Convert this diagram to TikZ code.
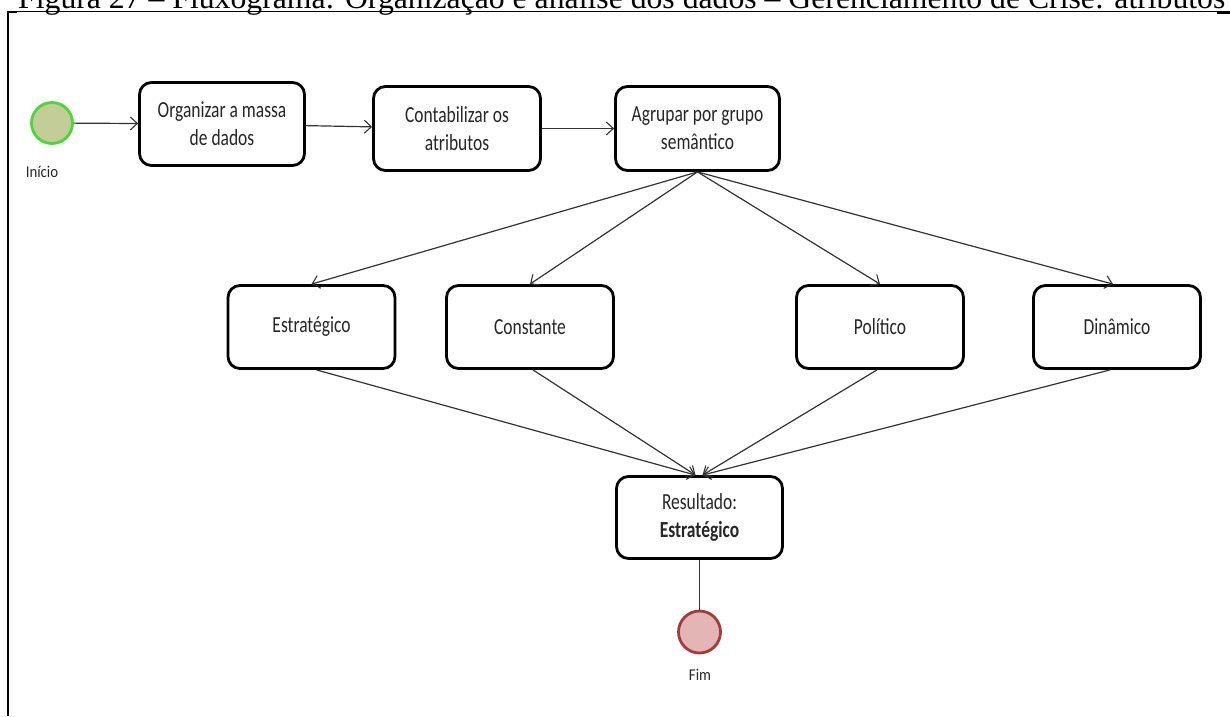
\documentclass[tikz,border=0pt]{standalone}
\usepackage{fontspec}
\usepackage{graphicx}
\setmainfont{Carlito}[FakeStretch=0.76]
\newfontfamily\labelfont{Carlito}[FakeStretch=0.9]
\newfontfamily\captionfont{Liberation Serif}
\usetikzlibrary{arrows.meta,calc}
\definecolor{startfill}{HTML}{C2CD98}
\definecolor{startline}{HTML}{4CD63C}
\definecolor{endfill}{HTML}{E3B5B4}
\definecolor{endline}{HTML}{9E3F3E}
\definecolor{ink}{HTML}{262626}
\definecolor{wire}{HTML}{333333}

\begin{document}
\begin{tikzpicture}[x=1pt,y=-1pt,
  stepbox/.style={draw=black, line width=2.8pt, rounded corners=12pt,
    align=center, inner sep=0pt, text=ink,
    font=\fontsize{23}{28}\selectfont},
  wide/.style={minimum width=167pt, minimum height=84pt},
  flow/.style={draw=wire, line width=1.2pt,
    -{Straight Barb[length=7pt,width=13pt,line width=1.1pt]}},
  plain/.style={draw=wire, line width=1.2pt},
  terminal/.style={circle, line width=2.8pt, minimum size=41pt, inner sep=0pt},
  tag/.style={text=ink, inner sep=0pt, font=\labelfont\fontsize{16.5}{19}\selectfont}]

\useasboundingbox (0,0) rectangle (1230,716);
\clip (0,0) rectangle (1230,716);
\fill[white] (0,0) rectangle (1230,716);

% caption line and frame of the figure
\node[anchor=base west, inner sep=0pt] (caption) at (18,8.5)
  {\resizebox{1207pt}{!}{\captionfont Figura 27 – Fluxograma: Organização e análise dos dados – Gerenciamento de Crise: atributos}};
\draw[line width=1.2pt] (8,11.5) -- (1230,11.5);
\draw[line width=2.6pt] (8,10.5) -- (8,716);
\draw[line width=2.2pt] (6.7,12) -- (17,12);
\draw[line width=2.2pt] (1217,12.5) -- (1230,12.5);

% start and end events
\node[terminal, fill=startfill, draw=startline] (start) at (52,123) {};
\node[tag] (startlbl) at (42,172) {Início};
\node[terminal, fill=endfill, draw=endline, minimum size=42pt] (finish) at (699.5,632) {};
\node[tag] (finishlbl) at (700,675) {Fim};

% first row of activities
\node[stepbox, minimum width=165pt, minimum height=83pt] (organize) at (222,124)
  {Organizar a massa\\de dados};
\node[stepbox, wide] (count) at (457,128.5) {Contabilizar os\\atributos};
\node[stepbox, minimum width=164pt, minimum height=84pt] (group) at (697.5,128.5)
  {Agrupar por grupo\\semântico};

% semantic groups
\node[stepbox, wide, minimum height=83pt] (strat) at (311.5,327) {Estratégico};
\node[stepbox, wide, minimum height=83pt] (const) at (530,327) {Constante};
\node[stepbox, wide, minimum height=83pt] (polit) at (880,327) {Político};
\node[stepbox, wide, minimum height=83pt] (dyn) at (1117,327) {Dinâmico};

% result
\node[stepbox, minimum width=166pt, minimum height=82pt] (result) at (699.5,517.5)
  {Resultado:\\\textbf{Estratégico}};

% connectors
\draw[flow] (start) -- (organize);
\draw[flow] (organize) -- (count);
\draw[flow] (count) -- (group);
\draw[flow] (group.south) -- (strat.north);
\draw[flow] (group.south) -- (const.north);
\draw[flow] (group.south) -- (polit.north);
\draw[flow] (group.south) -- ($(dyn.north)+(-4,0)$);
\draw[flow] ($(strat.south)+(5,0)$) -- ($(result.north)+(-4,0)$);
\draw[flow] ($(const.south)+(3,0)$) -- ($(result.north)+(-4,0)$);
\draw[flow] ($(polit.south)+(-3,0)$) -- ($(result.north)+(3,0)$);
\draw[flow] ($(dyn.south)+(-7,0)$) -- ($(result.north)+(3,0)$);
\draw[plain] (result) -- (finish);
\end{tikzpicture}
\end{document}
